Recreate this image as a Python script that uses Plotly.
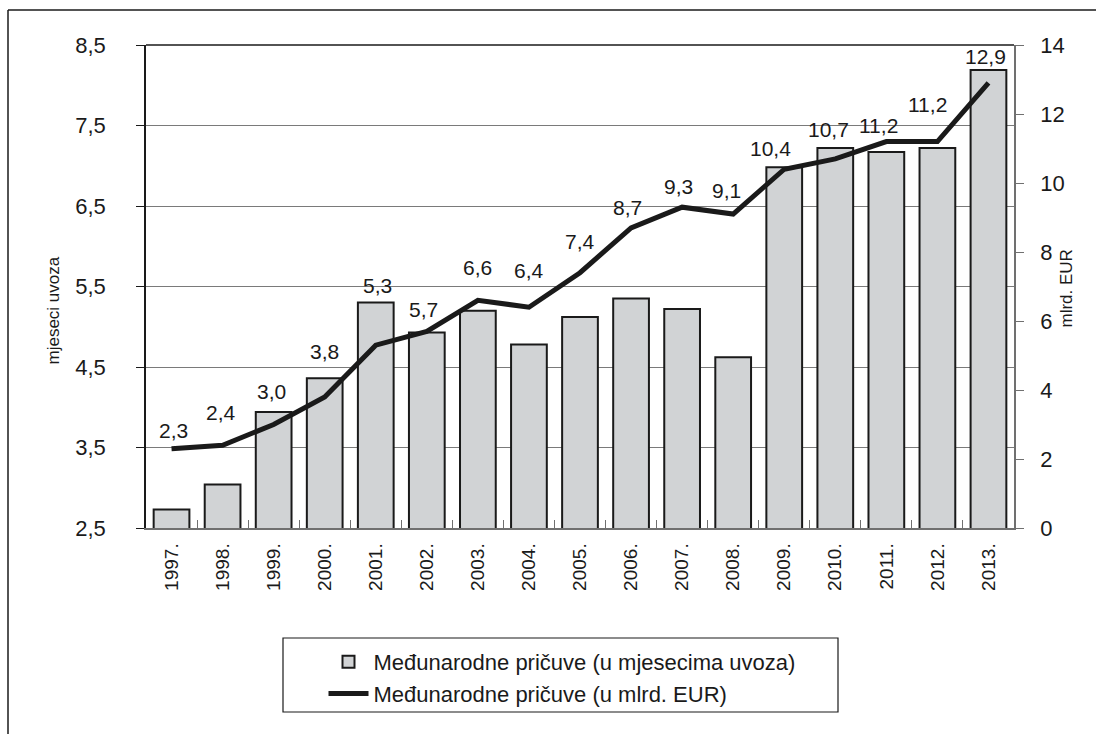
import plotly.graph_objects as go

# ---- data ----
years = ["1997.", "1998.", "1999.", "2000.", "2001.", "2002.", "2003.", "2004.", "2005.",
         "2006.", "2007.", "2008.", "2009.", "2010.", "2011.", "2012.", "2013."]
months_of_imports = [2.73, 3.04, 3.94, 4.36, 5.30, 4.93, 5.20, 4.78, 5.12,
                     5.35, 5.22, 4.62, 6.98, 7.22, 7.17, 7.22, 8.19]
reserves_bn_eur = [2.3, 2.4, 3.0, 3.8, 5.3, 5.7, 6.6, 6.4, 7.4,
                   8.7, 9.3, 9.1, 10.4, 10.7, 11.2, 11.2, 12.9]

bar_name = "Međunarodne pričuve (u mjesecima uvoza)"
line_name = "Međunarodne pričuve (u mlrd. EUR)"
left_title = "mjeseci uvoza"
right_title = "mlrd. EUR"

# label offsets (pixels) for the value labels
label_dx = [2, -2, -2, 0, 2, -3, 0, 0, 0, -4, -4, -7, -14, -7, -8, -10, -3]
label_dy = [18, 33, 33, 45, 60, 22, 33, 37, 31, 20, 21, 24, 21, 29, 16, 37, 26]

# ---- layout geometry ----
W, H = 1096, 734
L, R, T, B = 146, 82, 45, 206
PW, PH = W - L - R, H - T - B


def px(x):
    return (x - L) / PW


def py(y):
    return (H - B - y) / PH


FONT = "Liberation Sans, Arial, sans-serif"
INK = "#1a1a1a"

fig = go.Figure()
fig.add_trace(go.Bar(
    x=years, y=months_of_imports, name=bar_name,
    marker=dict(color="#d1d3d5", line=dict(color=INK, width=2)),
    yaxis="y",
))
fig.add_trace(go.Scatter(
    x=years, y=reserves_bn_eur, name=line_name, mode="lines",
    line=dict(color=INK, width=5),
    yaxis="y2",
))

annotations = []
for i, (v, dx, dy) in enumerate(zip(reserves_bn_eur, label_dx, label_dy)):
    annotations.append(dict(
        x=i, y=v, xref="x", yref="y2", text=f"{v:.1f}".replace(".", ","),
        showarrow=False, xshift=dx, yshift=dy,
        font=dict(family=FONT, size=21, color=INK),
    ))

annotations.append(dict(
    x=px(41), y=py(367), xref="paper", yref="paper", text=left_title,
    textangle=-90, showarrow=False, font=dict(family=FONT, size=17, color=INK),
))
annotations.append(dict(
    x=px(1077), y=py(289), xref="paper", yref="paper", text=right_title,
    textangle=-90, showarrow=False, font=dict(family=FONT, size=17, color=INK),
))

shapes = [
    dict(type="line", xref="paper", yref="paper", x0=0, x1=1, y0=1, y1=1,
         line=dict(color=INK, width=1.5)),
    dict(type="rect", xref="paper", yref="paper",
         x0=px(283), x1=px(838), y0=py(712), y1=py(638),
         line=dict(color=INK, width=1.2), fillcolor="rgba(0,0,0,0)"),
    dict(type="line", xref="paper", yref="paper",
         x0=px(8), x1=px(8), y0=py(10), y1=py(H + 5),
         line=dict(color=INK, width=1.5)),
    dict(type="line", xref="paper", yref="paper",
         x0=px(8), x1=px(W + 5), y0=py(10), y1=py(10),
         line=dict(color=INK, width=1.5)),
]

fig.update_layout(
    width=W, height=H,
    margin=dict(l=L, r=R, t=T, b=B, pad=0),
    paper_bgcolor="white", plot_bgcolor="white",
    separators=",.",
    font=dict(family=FONT, size=20, color=INK),
    bargap=0.3,
    showlegend=True,
    legend=dict(
        orientation="v", x=px(562), xanchor="center", y=py(641), yanchor="top",
        bgcolor="rgba(0,0,0,0)", borderwidth=0,
        font=dict(family=FONT, size=22, color=INK),
        tracegroupgap=0, itemwidth=40,
    ),
    xaxis=dict(
        type="category", range=[-0.5, len(years) - 0.5],
        tickangle=-90, showline=True, linecolor="#707070", linewidth=1.5,
        ticks="inside", tickson="boundaries", ticklen=8, tickcolor="#707070",
        ticklabelstandoff=6,
        tickfont=dict(family=FONT, size=19, color=INK), showgrid=False,
    ),
    yaxis=dict(
        range=[2.5, 8.5], tick0=2.5, dtick=1, tickformat=".1f",
        showgrid=True, gridcolor="#7a7a7a", gridwidth=1.2,
        showline=True, linecolor=INK, linewidth=1.5,
        ticks="outside", ticklen=8, tickcolor=INK, ticklabelstandoff=26,
        tickfont=dict(family=FONT, size=22, color=INK), zeroline=False,
    ),
    yaxis2=dict(
        overlaying="y", side="right", range=[0, 14], dtick=2,
        showgrid=False, showline=True, linecolor="#707070", linewidth=1.5,
        ticks="outside", ticklen=8, tickcolor="#707070", ticklabelstandoff=12,
        tickfont=dict(family=FONT, size=22, color=INK), zeroline=False,
    ),
    annotations=annotations,
    shapes=shapes,
)

fig.write_html("out.html", config={"displayModeBar": False},
               post_script="document.body.style.margin='0px';")
